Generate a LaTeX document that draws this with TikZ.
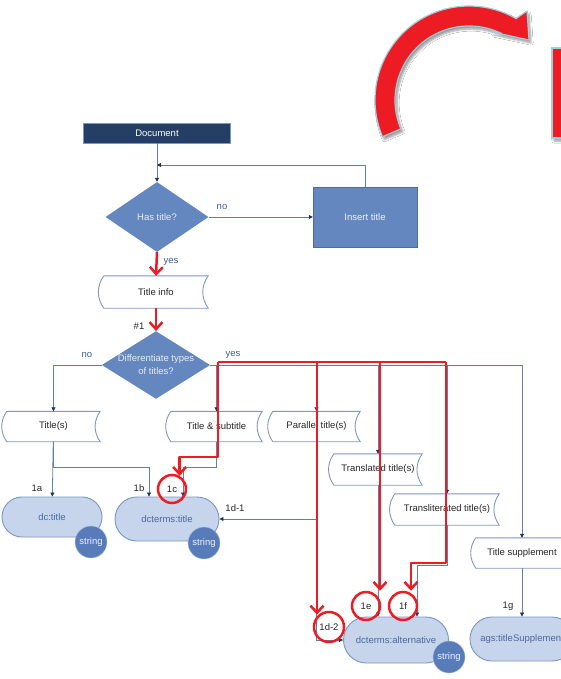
\documentclass[tikz,border=0pt]{standalone}
\usepackage{fontspec}
\setmainfont{Liberation Sans}
\usetikzlibrary{calc,positioning,arrows.meta,shapes.geometric,shapes.misc,shadows.blur}
\definecolor{navyBox}{RGB}{36,62,102}
\definecolor{steelBlue}{RGB}{99,135,190}
\definecolor{flowLine}{RGB}{100,126,170}
\definecolor{tipNavy}{RGB}{30,52,92}
\definecolor{propFill}{RGB}{198,213,235}
\definecolor{propLine}{RGB}{122,150,196}
\definecolor{propText}{RGB}{74,104,158}
\definecolor{stringBlue}{RGB}{88,124,185}
\definecolor{dataLine}{RGB}{128,152,192}
\definecolor{markRed}{RGB}{237,28,36}
\definecolor{glowBlue}{RGB}{160,206,218}
\definecolor{labelBlue}{RGB}{62,95,150}

\tikzset{
  txt/.style={font=\fontsize{9.5}{13}\selectfont},
  startbox/.style={txt, rectangle, fill=navyBox, draw=propLine, text=white, minimum width=147pt, minimum height=20pt, inner sep=0pt},
  procbox/.style={txt, rectangle, fill=steelBlue, draw=steelBlue!80!black, text=white!90!steelBlue, minimum width=104pt, minimum height=60pt, inner sep=0pt},
  decision/.style={txt, diamond, fill=steelBlue, text=white!85!steelBlue, align=center, inner sep=0pt, aspect=1.6},
  datbox/.style={txt, rectangle, text=black!85, minimum height=30pt, inner sep=0pt},
  propbox/.style={txt, rounded rectangle, fill=propFill, draw=propLine, line width=0.9pt, text=propText, minimum width=104pt, minimum height=44pt, inner sep=0pt},
  strdot/.style={txt, circle, fill=stringBlue, draw=propLine!60, text=white!90!stringBlue, minimum size=32pt, inner sep=0pt},
  tag/.style={txt, text=black!85},
  lbl/.style={txt, text=labelBlue},
  ring/.style={txt, circle, draw=markRed, line width=2.5pt, text=black!85, minimum size=28pt, inner sep=0pt},
  flow/.style={draw=flowLine, line width=0.8pt, -{Triangle[length=4pt,width=4pt,color=tipNavy]}},
  outline/.style={draw=dataLine, line width=0.9pt},
  redline/.style={draw=markRed, line width=2.5pt, line join=round},
  redtip/.style={-{Straight Barb[length=7pt,width=13pt]}}
}

\begin{document}
\begin{tikzpicture}[x=1pt,y=1pt]
\useasboundingbox (0,0) rectangle (561,-679);
\clip (0,0) rectangle (561,-679);
\fill[white] (0,0) rectangle (561,-679);

% Curved red arrow and red block at the top right
\coordinate (arcC) at (469,-100);
\fill[markRed, draw=glowBlue, line width=1.2pt, blur shadow={shadow xshift=2pt, shadow yshift=-3pt, shadow blur steps=6}]
  ($(arcC)+(203:94)$) arc[start angle=203, end angle=60, radius=94]
  -- (527,-11) -- (529,-40) -- (492,-32)
  -- ($(arcC)+(66:74)$) arc[start angle=66, end angle=203, radius=74] -- cycle;
\fill[markRed, draw=glowBlue, line width=1.2pt, blur shadow={shadow xshift=2pt, shadow yshift=-3pt, shadow blur steps=6}]
  (552,-48) rectangle (595,-138);

% Top of the flow
\node[startbox] (doc) at (157,-133) {Document};
\node[decision, minimum width=103pt, minimum height=70pt] (hastitle) at (157,-217) {Has title?};
\node[procbox] (insert) at (365,-217) {Insert title};
\node[datbox, minimum width=104pt, minimum height=32pt] (info) at (156,-292) {Title info};
\node[decision] (difftype) at (156,-365) {Differentiate types\\of titles?};

% Kinds of titles
\node[datbox, minimum width=93pt] (titles) at (53.5,-426.5) {Title(s)};
\node[datbox, minimum width=91pt] (tsub) at (216.5,-426.5) {Title \& subtitle};
\node[datbox, minimum width=87pt] (par) at (316.5,-426.5) {Parallel title(s)};
\node[datbox, minimum width=88pt, minimum height=31pt] (trans) at (378,-469.5) {Translated title(s)};
\node[datbox, minimum width=104pt, minimum height=31pt] (translit) at (447,-509.5) {Transliterated title(s)};
\node[datbox, minimum width=92pt] (supp) at (522,-553) {Title supplement};

% stored data outlines
\foreach \n in {info,titles,tsub,par,trans,translit,supp} {
  \draw[outline] (\n.north west) -- (\n.north east) to[bend right=35] (\n.south east)
    -- (\n.south west) to[bend left=35] (\n.north west);
}

% Properties
\node[propbox, minimum width=100pt, minimum height=40pt] (dctitle) at (52,-517) {dc:title};
\node[propbox] (dctermstitle) at (167,-519) {dcterms:title};
\node[propbox, minimum width=105pt, minimum height=46pt] (dctermsalt) at (396,-640) {dcterms:alternative};
\node[propbox] (agssupp) at (522,-639) {ags:titleSupplement};
\node[strdot] (str1) at (91,-542) {string};
\node[strdot] (str2) at (204,-543) {string};
\node[strdot] (str3) at (449,-657) {string};
\node[strdot] (str4) at (577,-661) {string};

% Connectors
\coordinate (loopin) at (157,-165);
\draw[flow] (doc) -- (hastitle);
\draw[flow] (insert.north) |- (loopin);
\draw[flow] (hastitle) -- (insert);
\draw[flow] (hastitle) -- (info);
\draw[flow] (info) -- (difftype);
\draw[flow] (difftype.west) -| (titles.north);
\draw[flow] (difftype.east) -| (supp.north);
\foreach \n in {tsub,par,trans,translit} {
  \draw[flow] (\n.north |- difftype.east) -- (\n.north);
}
\draw[flow] (titles) -- (dctitle);
\draw[flow] (titles.south) -- ++(0,-26) -| ([xshift=-18pt]dctermstitle.north);
\draw[flow] (tsub.south) -- ++(0,-26) -| ([xshift=16pt]dctermstitle.north);
\draw[flow] (par.south |- dctermstitle.east) -- (dctermstitle.east);
\draw[flow] (par.south) |- (dctermsalt.west);
\draw[flow] (trans.south) -- (trans.south |- dctermsalt.north);
\draw[flow] (translit.south) -- ++(0,-40) -| ([xshift=21pt]dctermsalt.north);
\draw[flow] (supp) -- (agssupp);

% Labels
\node[lbl] (no1) at (222,-207) {no};
\node[lbl] (yes1) at (171,-262) {yes};
\node[tag] (hash1) at (139,-326) {\#1};
\node[lbl] (no2) at (87,-355) {no};
\node[lbl] (yes2) at (233,-355) {yes};
\node[tag] (l1a) at (37,-488) {1a};
\node[tag] (l1b) at (139,-488) {1b};
\node[tag] (l1d1) at (235,-508) {1d-1};
\node[tag] (l1g) at (508,-606) {1g};

% Red highlights
\node[ring] (c1c) at (172,-489) {1c};
\node[ring, minimum size=30pt] (c1d2) at (329,-627) {1d-2};
\node[ring] (c1e) at (366,-606) {1e};
\node[ring] (c1f) at (403,-606) {1f};
\coordinate (r0) at (218,-362);
\coordinate (r1) at (317,-362);
\coordinate (r2) at (380,-362);
\coordinate (r3) at (446,-362);
\draw[redline, redtip] (hastitle.south) -- (info.north);
\draw[redline, redtip] (info.south) -- (difftype.north);
\draw[redline] (r0) -- (r3);
\draw[redline, redtip] (r0) -- ++(0,-95) -| (c1c.60);
\draw[redline, redtip] (r1) -- (r1 |- c1d2.130);
\draw[redline, redtip] (r2) -- (r2 |- c1e.north);
\draw[redline, redtip] (r3) -- ++(0,-201) -| ([xshift=8pt]c1f.north);

\end{tikzpicture}
\end{document}
